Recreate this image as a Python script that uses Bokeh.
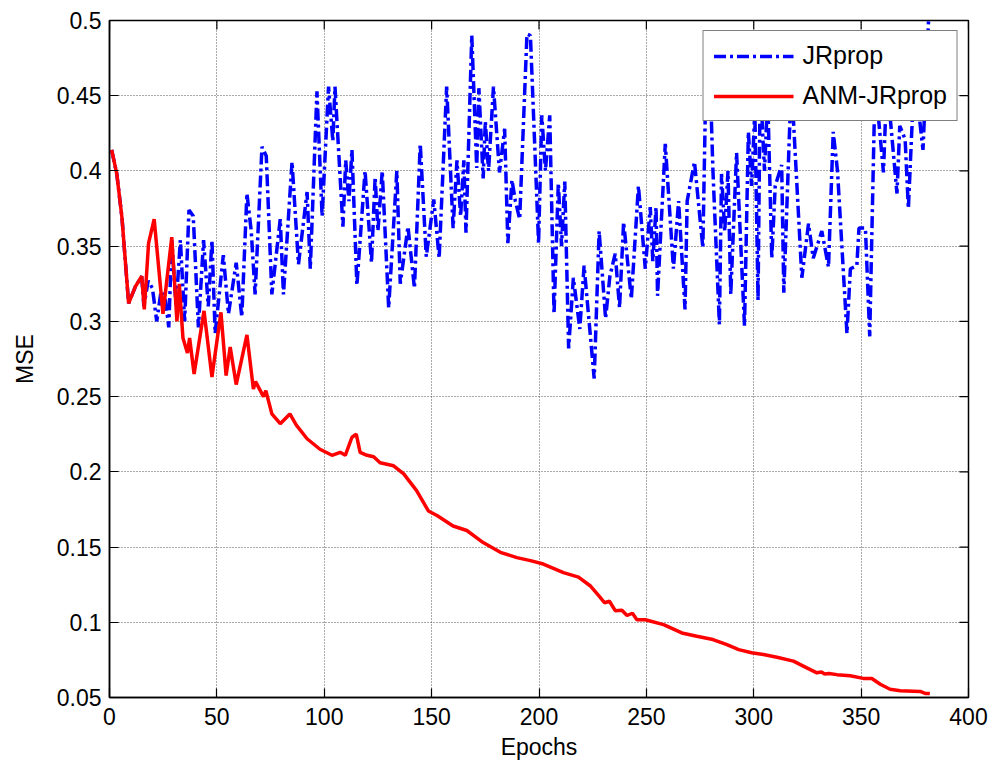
from math import pi
from bokeh.plotting import figure
from bokeh.models import Range1d, FixedTicker
from bokeh.embed import file_html
from bokeh.resources import INLINE

# ---------------- data ----------------
x_ticks = [0, 50, 100, 150, 200, 250, 300, 350, 400]
y_ticks = [0.05, 0.1, 0.15, 0.2, 0.25, 0.3, 0.35, 0.4, 0.45, 0.5]
y_tick_labels = ["0.05", "0.1", "0.15", "0.2", "0.25", "0.3", "0.35", "0.4", "0.45", "0.5"]

jr_epochs = [1, 3.4, 5.8, 8.9, 12, 15, 16, 18, 20, 22, 24, 26, 27.6, 29, 31, 33, 35, 37, 39,
             41.4, 43.8, 46, 47.7, 49.2, 53, 55.4, 59, 61.6, 64, 66, 67.8, 71, 73, 75.6, 79.5,
             81, 85, 88, 92, 93.5, 96.6, 99, 102, 104, 105, 108.7, 110, 111.5, 112.9, 115.2,
             119, 122, 123.7, 125, 127, 130, 133.8, 135.4, 139, 142, 144.7, 147.5, 151, 153.5,
             157, 160, 161.8, 163.5, 165, 166, 168.7, 171, 172, 174, 175, 176.5, 178.8, 181.6,
             184, 185.5, 187.4, 189, 191, 194.4, 196, 199.8, 201.3, 203, 205, 207, 209, 210.5,
             212, 213.8, 216, 219, 221, 225.7, 228, 231, 233, 235.5, 237.5, 239.4, 243, 246.3,
             249.5, 251.8, 253, 254.5, 255.2, 258.8, 262.6, 265, 268, 269, 272.4, 276.3, 277.4,
             279.5, 281, 284, 285, 286.5, 288, 289.3, 292, 295.7, 297.5, 299, 300.5, 302, 303,
             305, 306.5, 308.4, 310, 313, 314, 317.5, 322.4, 325.5, 327.7, 331.7, 334.8, 337,
             339, 343.4, 345, 348, 349, 352, 354, 356.5, 360.4, 362, 366.7, 368, 370.5, 372,
             374, 376, 378.8, 381.4, 382]
jr_mse = [0.414, 0.398, 0.369, 0.312, 0.323, 0.330, 0.310, 0.327, 0.322, 0.300, 0.320, 0.315,
          0.296, 0.354, 0.310, 0.354, 0.300, 0.374, 0.370, 0.296, 0.354, 0.310, 0.354, 0.292,
          0.344, 0.305, 0.339, 0.303, 0.385, 0.360, 0.318, 0.416, 0.410, 0.318, 0.368, 0.318,
          0.406, 0.338, 0.386, 0.335, 0.453, 0.370, 0.456, 0.420, 0.456, 0.363, 0.407, 0.380,
          0.414, 0.324, 0.400, 0.339, 0.396, 0.360, 0.400, 0.309, 0.400, 0.325, 0.363, 0.322,
          0.418, 0.343, 0.381, 0.342, 0.456, 0.362, 0.407, 0.370, 0.407, 0.359, 0.490, 0.402,
          0.455, 0.395, 0.433, 0.400, 0.456, 0.399, 0.428, 0.352, 0.394, 0.380, 0.368, 0.491,
          0.490, 0.352, 0.437, 0.400, 0.437, 0.305, 0.392, 0.350, 0.393, 0.282, 0.329, 0.295,
          0.337, 0.262, 0.360, 0.302, 0.330, 0.345, 0.309, 0.366, 0.315, 0.390, 0.335, 0.376,
          0.340, 0.376, 0.317, 0.418, 0.335, 0.380, 0.308, 0.380, 0.406, 0.349, 0.436, 0.470,
          0.400, 0.298, 0.398, 0.360, 0.400, 0.318, 0.412, 0.297, 0.426, 0.390, 0.440, 0.314,
          0.460, 0.400, 0.450, 0.342, 0.390, 0.404, 0.319, 0.460, 0.329, 0.365, 0.342, 0.360,
          0.336, 0.426, 0.400, 0.292, 0.335, 0.337, 0.362, 0.362, 0.290, 0.460, 0.399, 0.460,
          0.385, 0.430, 0.421, 0.375, 0.440, 0.450, 0.414, 0.500, 0.505]

anm_epochs = [1, 3.4, 5.8, 8.9, 12, 15, 16.2, 18.2, 20.8, 24.9, 29, 31.4, 32.5, 34.2, 36.3, 37.3,
              39.4, 44, 47.7, 51.9, 54.3, 56.2, 59, 64, 67, 68, 71.7, 72.8, 75.6, 79.5, 84, 87,
              92, 98, 103.6, 107.4, 109.8, 112.9, 114.9, 116.7, 119.9, 123, 126, 132.3, 137,
              143, 148.5, 152.5, 160, 166.4, 174, 182, 189.7, 196, 202, 211.4, 218.4, 223.8,
              228.5, 230.5, 232.8, 235.5, 238.6, 241, 243.5, 245.6, 249.5, 258, 266.5, 273.5,
              281, 287.5, 293, 299, 304.5, 310.8, 318.5, 324.7, 329.4, 331.5, 333, 335, 338.7,
              344.9, 351, 355, 358.9, 363.5, 368.2, 377.5, 379.8, 382]
anm_mse = [0.414, 0.398, 0.369, 0.312, 0.323, 0.330, 0.308, 0.352, 0.368, 0.305, 0.356, 0.300,
           0.325, 0.289, 0.279, 0.289, 0.265, 0.307, 0.263, 0.306, 0.264, 0.283, 0.258, 0.291,
           0.255, 0.260, 0.250, 0.254, 0.2385, 0.232, 0.2385, 0.231, 0.222, 0.215, 0.211,
           0.213, 0.211, 0.223, 0.225, 0.213, 0.211, 0.210, 0.206, 0.204, 0.1986, 0.1875,
           0.174, 0.171, 0.164, 0.161, 0.153, 0.1465, 0.143, 0.141, 0.1387, 0.133, 0.130,
           0.1243, 0.1166, 0.113, 0.114, 0.1077, 0.108, 0.1045, 0.106, 0.1017, 0.1017, 0.0984,
           0.0929, 0.0907, 0.0885, 0.0851, 0.0818, 0.0797, 0.0786, 0.0768, 0.0742, 0.0697,
           0.0664, 0.067, 0.0656, 0.066, 0.0652, 0.0645, 0.0627, 0.0626, 0.0588, 0.0555,
           0.0545, 0.054, 0.0527, 0.0527]

FONT = "Liberation Sans"
X_MIN, X_MAX = 0, 400
Y_MIN, Y_MAX = 0.05, 0.5

p = figure(width=996, height=767, output_backend="svg", toolbar_location=None,
           x_range=Range1d(X_MIN, X_MAX), y_range=Range1d(Y_MIN, Y_MAX),
           min_border_left=109, min_border_right=28, min_border_top=20, min_border_bottom=70,
           x_axis_label="Epochs", y_axis_label="MSE")
p.background_fill_color = "white"
p.border_fill_color = "white"
p.outline_line_color = "black"
p.outline_line_width = 1.5

# grids
for g in (p.xgrid[0], p.ygrid[0]):
    g.grid_line_color = "#555555"
    g.grid_line_dash = "1 2"
    g.grid_line_width = 1
p.xgrid[0].ticker = FixedTicker(ticks=x_ticks)
p.ygrid[0].ticker = FixedTicker(ticks=y_ticks)

xax = p.xaxis[0]
yax = p.yaxis[0]
xax.ticker = FixedTicker(ticks=x_ticks)
yax.ticker = FixedTicker(ticks=y_ticks)
yax.major_label_overrides = dict(zip(y_ticks, y_tick_labels))
for ax in (xax, yax):
    ax.axis_line_color = "black"
    ax.axis_line_width = 1.5
    ax.major_tick_line_color = "black"
    ax.major_tick_line_width = 1.2
    ax.major_tick_in = 9
    ax.major_tick_out = 0
    ax.minor_tick_line_color = None
    ax.major_label_text_font = FONT
    ax.major_label_text_font_size = "23px"
    ax.major_label_text_color = "black"
    ax.axis_label_text_font = FONT
    ax.axis_label_text_font_size = "23px"
    ax.axis_label_text_font_style = "normal"
    ax.axis_label_text_color = "black"
xax.major_label_standoff = 10
yax.major_label_standoff = 8
xax.axis_label_standoff = 6
yax.axis_label_standoff = 16

# inward tick marks on the top and right edges of the box (from the tick lists)
p.ray(x=x_ticks, y=[Y_MAX] * len(x_ticks), length=9, length_units="screen",
      angle=-pi / 2, line_color="black", line_width=1.2)
p.ray(x=[X_MAX] * len(y_ticks), y=y_ticks, length=9, length_units="screen",
      angle=pi, line_color="black", line_width=1.2)

p.line(jr_epochs, jr_mse, line_color="#0000ff", line_width=3.5, line_dash="12 4 3 4",
       legend_label="JRprop")
p.line(anm_epochs, anm_mse, line_color="#ff0000", line_width=3.5, legend_label="ANM-JRprop")

lg = p.legend[0]
lg.location = "top_right"
lg.margin = 10
lg.padding = 10
lg.spacing = 11
lg.glyph_width = 80
lg.glyph_height = 26
lg.label_height = 26
lg.label_standoff = 9
lg.label_text_font = FONT
lg.label_text_font_size = "25px"
lg.label_text_color = "black"
lg.border_line_color = "black"
lg.border_line_width = 1.5
lg.background_fill_color = "white"
lg.background_fill_alpha = 1.0

open("out.html", "w").write(file_html(p, INLINE))
